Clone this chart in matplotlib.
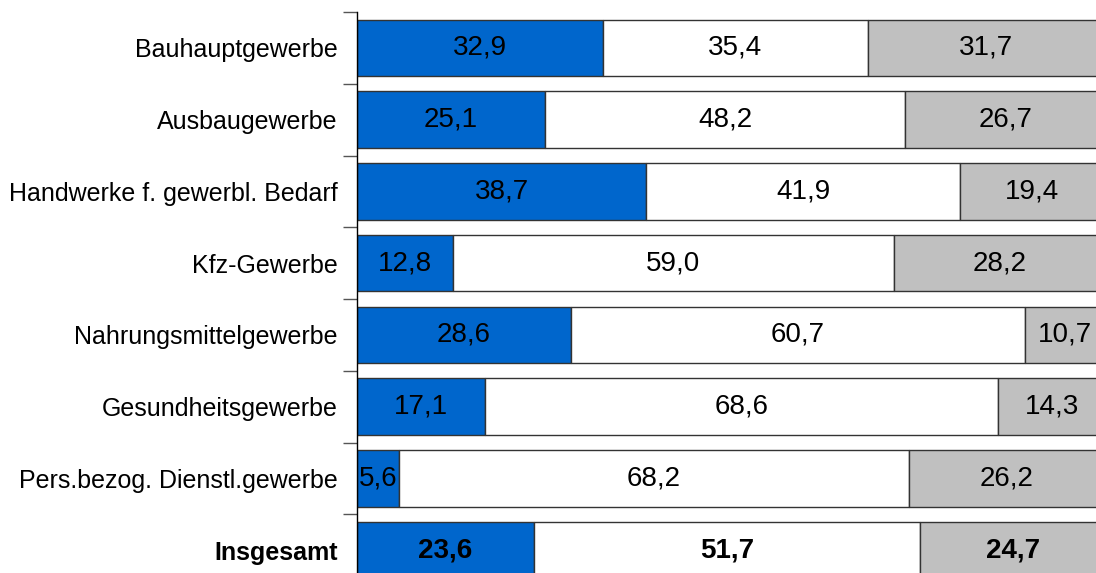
import matplotlib.pyplot as plt
import numpy as np

plt.rcParams.update({
    'font.family': 'Liberation Sans',
    'font.size': 18,
})

categories = ['Bauhauptgewerbe', 'Ausbaugewerbe', 'Handwerke f. gewerbl. Bedarf',
              'Kfz-Gewerbe', 'Nahrungsmittelgewerbe', 'Gesundheitsgewerbe',
              'Pers.bezog. Dienstl.gewerbe', 'Insgesamt']
blue_vals = [32.9, 25.1, 38.7, 12.8, 28.6, 17.1, 5.6, 23.6]
white_vals = [35.4, 48.2, 41.9, 59.0, 60.7, 68.6, 68.2, 51.7]
gray_vals = [31.7, 26.7, 19.4, 28.2, 10.7, 14.3, 26.2, 24.7]

fig = plt.figure(figsize=(10.96, 5.73), dpi=100)
# plot area runs past the right and bottom edge, as in the original
ax = fig.add_axes([357 / 1096, 1 - 586 / 573, 748 / 1096, 574 / 573])

y = np.arange(len(categories))
series = [blue_vals, white_vals, gray_vals]
colors = ['#0066cc', '#ffffff', '#c0c0c0']
left = np.zeros(len(categories))
for vals, col in zip(series, colors):
    vals = np.array(vals)
    ax.barh(y, vals, left=left, height=0.79, color=col,
            edgecolor='#333333', linewidth=1.0)
    for i, v in enumerate(vals):
        ax.text(left[i] + v / 2, y[i], f'{v:.1f}'.replace('.', ','),
                ha='center', va='center', fontsize=20,
                fontweight='bold' if i == len(categories) - 1 else 'normal')
    left += vals

ax.set_xlim(0, 100)
ax.set_ylim(len(categories) - 0.5, -0.5)
ax.set_yticks(y)
ax.set_yticklabels(categories)
ax.get_yticklabels()[-1].set_fontweight('bold')
ax.set_yticks(np.arange(-0.5, len(categories)), minor=True)
ax.tick_params(axis='y', which='major', length=0, pad=14)
ax.tick_params(axis='y', which='minor', length=10, width=1, color='#555555')
ax.set_xticks([])
for s in ['top', 'right', 'bottom']:
    ax.spines[s].set_visible(False)
ax.spines['left'].set_color('black')
ax.spines['left'].set_linewidth(1.0)

plt.savefig('out.png', dpi=100)
